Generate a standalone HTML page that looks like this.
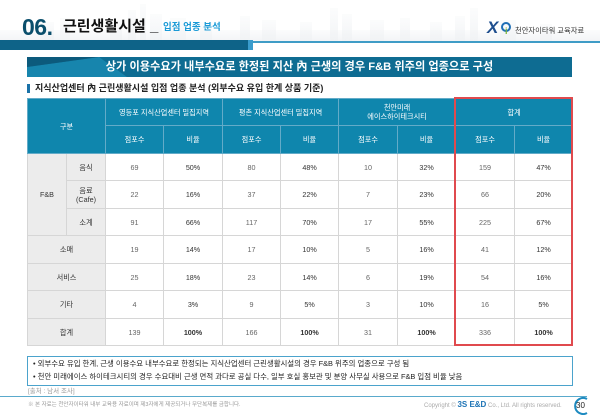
<!DOCTYPE html>
<html><head><meta charset="utf-8">
<style>
*{margin:0;padding:0;box-sizing:border-box}
body{width:600px;height:415px;overflow:hidden;background:#fff;position:relative;font-family:"Liberation Sans","Noto Sans CJK KR",sans-serif;color:#333}
.abs{position:absolute;white-space:nowrap}
table{position:absolute;left:27px;top:98px;width:545px;border-collapse:collapse;table-layout:fixed}
td{text-align:center;vertical-align:middle;font-size:7.2px;color:#555;border:1px solid #d6d6d6;line-height:9px}
td.h{background:#0f86ad;color:#fff;border:1px solid #63abc8}
td.g{background:#ececec;color:#333}
td.n{color:#666}
td.p{color:#333}
td.b{font-weight:bold;color:#333}
</style></head><body>
<!-- skyline -->
<svg class="abs" style="left:0;top:0" width="600" height="42">
<defs><linearGradient id="sk" x1="0" y1="0" x2="0" y2="1"><stop offset="0" stop-color="#f3f5f7" stop-opacity="0.3"/><stop offset="1" stop-color="#f0f2f4" stop-opacity="0.9"/></linearGradient></defs>
<g fill="url(#sk)">
<rect x="0" y="30" width="600" height="12"/>
<rect x="40" y="22" width="14" height="20"/><rect x="60" y="18" width="10" height="24"/>
<rect x="110" y="20" width="12" height="22"/><rect x="128" y="10" width="8" height="32"/>
<rect x="140" y="4" width="6" height="38"/><rect x="150" y="14" width="12" height="28"/>
<rect x="170" y="18" width="16" height="24"/><rect x="200" y="22" width="12" height="20"/>
<rect x="240" y="16" width="10" height="26"/><rect x="262" y="20" width="14" height="22"/>
<rect x="300" y="22" width="12" height="20"/><rect x="330" y="8" width="8" height="34"/>
<rect x="342" y="14" width="10" height="28"/><rect x="370" y="20" width="14" height="22"/>
<rect x="400" y="18" width="10" height="24"/><rect x="430" y="22" width="12" height="20"/>
<rect x="455" y="16" width="10" height="26"/><rect x="470" y="8" width="8" height="34"/>
<rect x="500" y="20" width="16" height="22"/><rect x="540" y="24" width="12" height="18"/>
</g></svg>
<!-- title -->
<div class="abs" style="left:22px;top:14px;font-size:23px;font-weight:bold;color:#0b4f6c;letter-spacing:-0.5px;line-height:26px">06.</div>
<div class="abs" style="left:63px;top:17px;font-size:15px;font-weight:bold;color:#111;line-height:20px">근린생활시설</div>
<div class="abs" style="left:150px;top:17px;font-size:15px;font-weight:bold;color:#111;line-height:20px">_</div>
<div class="abs" style="left:163px;top:22px;font-size:9.5px;font-weight:bold;color:#1a9ad6;line-height:12px">입점 업종 분석</div>
<!-- logo -->
<div class="abs" style="left:487px;top:19px;font-size:17px;font-weight:bold;font-style:italic;color:#1f4f8f;line-height:18px">X</div>
<div class="abs" style="left:501px;top:22px;width:10px;height:10px;border:2px solid #1f6fb5;border-radius:50%"></div>
<div class="abs" style="left:505px;top:26px;font-size:9px;font-weight:bold;color:#7ab43a;line-height:10px">i</div>
<div class="abs" style="left:515px;top:26px;font-size:7.3px;color:#333;line-height:10px">천안자이타워 교육자료</div>
<!-- bars -->
<div class="abs" style="left:253px;top:41px;width:347px;height:1.5px;background:#3f9cc6"></div>
<div class="abs" style="left:0;top:40px;width:248px;height:10px;background:#0e6388"></div>
<div class="abs" style="left:248px;top:40px;width:5px;height:10px;background:#3a9ccc"></div>
<!-- banner -->
<svg class="abs" style="left:27px;top:57px" width="545" height="20">
<rect width="545" height="20" fill="#0e6c92"/>
<polygon points="0,10 72,0 100,20 0,20" fill="#1785ad"/>
<polygon points="0,0 72,0 0,10" fill="#0c5a7c"/>
</svg>
<div class="abs" style="left:27px;top:57px;width:545px;height:20px;text-align:center;font-size:11.2px;font-weight:bold;color:#fff;line-height:20px">상가 이용수요가 내부수요로 한정된 지산 內 근생의 경우 F&amp;B 위주의 업종으로 구성</div>
<!-- subtitle -->
<div class="abs" style="left:27px;top:84px;width:3px;height:9px;background:#1a72a8"></div>
<div class="abs" style="left:35px;top:83px;font-size:9px;font-weight:bold;color:#222;line-height:11px">지식산업센터 內 근린생활시설 입점 업종 분석 (외부수요 유입 한계 상품 기준)</div>
<!-- table -->
<table>
<colgroup><col style="width:39px"><col style="width:39px"><col style="width:58px"><col style="width:59px"><col style="width:58px"><col style="width:58px"><col style="width:59px"><col style="width:58px"><col style="width:59px"><col style="width:58px"></colgroup>
<tr style="height:27px"><td class="h" colspan="2" rowspan="2">구분</td><td class="h" colspan="2">영등포 지식산업센터 밀집지역</td><td class="h" colspan="2">평촌 지식산업센터 밀집지역</td><td class="h" colspan="2">천안미래<br>에이스하이테크시티</td><td class="h" colspan="2">합계</td></tr>
<tr style="height:28px"><td class="h">점포수</td><td class="h">비율</td><td class="h">점포수</td><td class="h">비율</td><td class="h">점포수</td><td class="h">비율</td><td class="h">점포수</td><td class="h">비율</td></tr>
<tr style="height:27px"><td class="g" rowspan="3">F&amp;B</td><td class="g">음식</td><td class="n">69</td><td class="p">50%</td><td class="n">80</td><td class="p">48%</td><td class="n">10</td><td class="p">32%</td><td class="n">159</td><td class="p">47%</td></tr>
<tr style="height:28px"><td class="g">음료<br>(Cafe)</td><td class="n">22</td><td class="p">16%</td><td class="n">37</td><td class="p">22%</td><td class="n">7</td><td class="p">23%</td><td class="n">66</td><td class="p">20%</td></tr>
<tr style="height:27px"><td class="g">소계</td><td class="n">91</td><td class="p">66%</td><td class="n">117</td><td class="p">70%</td><td class="n">17</td><td class="p">55%</td><td class="n">225</td><td class="p">67%</td></tr>
<tr style="height:28px"><td class="g" colspan="2">소매</td><td class="n">19</td><td class="p">14%</td><td class="n">17</td><td class="p">10%</td><td class="n">5</td><td class="p">16%</td><td class="n">41</td><td class="p">12%</td></tr>
<tr style="height:27px"><td class="g" colspan="2">서비스</td><td class="n">25</td><td class="p">18%</td><td class="n">23</td><td class="p">14%</td><td class="n">6</td><td class="p">19%</td><td class="n">54</td><td class="p">16%</td></tr>
<tr style="height:28px"><td class="g" colspan="2">기타</td><td class="n">4</td><td class="p">3%</td><td class="n">9</td><td class="p">5%</td><td class="n">3</td><td class="p">10%</td><td class="n">16</td><td class="p">5%</td></tr>
<tr style="height:27px"><td class="g" colspan="2">합계</td><td class="n">139</td><td class="b">100%</td><td class="n">166</td><td class="b">100%</td><td class="n">31</td><td class="b">100%</td><td class="n">336</td><td class="b">100%</td></tr>
</table>
<div class="abs" style="left:454px;top:97px;width:119px;height:249px;border:2px solid #e04a4e;z-index:5"></div>
<!-- text box -->
<div class="abs" style="left:27px;top:356px;width:546px;height:30px;border:1.5px solid #4ba3cc;background:#fff"></div>
<div class="abs" style="left:33px;top:359px;font-size:7.4px;color:#222;line-height:10px">• 외부수요 유입 한계, 근생 이용수요 내부수요로 한정되는 지식산업센터 근린생활시설의 경우 F&amp;B 위주의 업종으로 구성 됨</div>
<div class="abs" style="left:33px;top:372px;font-size:7.4px;color:#222;line-height:10px">• 천안 미래에이스 하이테크시티의 경우 수요대비 근생 면적 과다로 공실 다수, 일부 호실 홍보관 및 분양 사무실 사용으로 F&amp;B 입점 비율 낮음</div>
<div class="abs" style="left:28px;top:388px;font-size:6.5px;color:#999;line-height:8px">[출처 : 남서 조사]</div>
<!-- footer -->
<div class="abs" style="left:0;top:396px;width:587px;height:1px;background:#5aaacc"></div>
<div class="abs" style="left:28px;top:401px;font-size:5.5px;color:#999;line-height:8px">※ 본 자료는 천안자이타워 내부 교육용 자료이며 제3자에게 제공되거나 무단복제를 금합니다.</div>
<div class="abs" style="left:424px;top:400px;font-size:6px;color:#aaa;line-height:10px">Copyright © <span style="font-size:8px;font-weight:bold;color:#1d73b5">3S E&amp;D</span> Co., Ltd. All rights reserved.</div>
<svg class="abs" style="left:573px;top:397px" width="20" height="18">
<path d="M14 2 A8 8 0 1 0 14 16" fill="none" stroke="#1d8ac0" stroke-width="2"/>
</svg>
<div class="abs" style="left:576px;top:401px;font-size:8px;color:#222;line-height:10px">30</div>
</body></html>
